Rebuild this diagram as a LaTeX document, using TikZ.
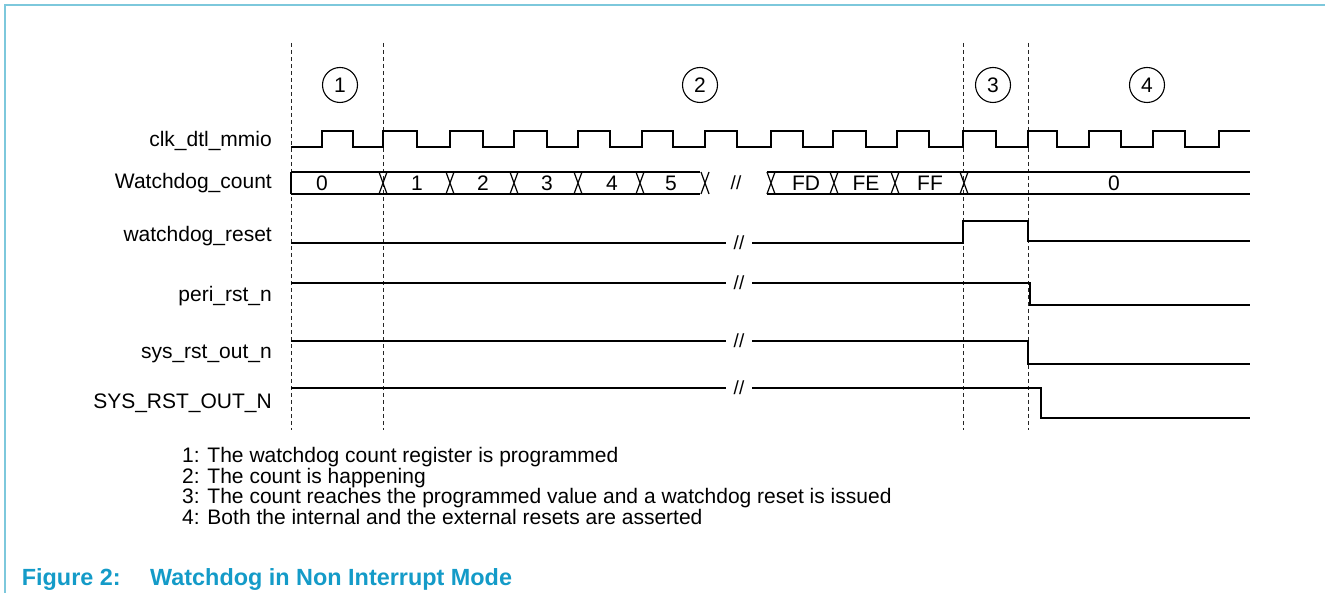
\documentclass[tikz,border=0pt]{standalone}
\usepackage{fontspec}
\setmainfont{Liberation Sans}
\definecolor{framecol}{RGB}{125,200,220}
\definecolor{capcol}{RGB}{20,155,200}
\begin{document}
\begin{tikzpicture}[x=1pt,y=-1pt,
 sig/.style={line width=1.2pt,black},
 gridline/.style={line width=0.9pt,dash pattern=on 4pt off 3pt,black!85},
 lbl/.style={anchor=east,inner sep=0pt,font=\fontsize{21}{21}\selectfont},
 val/.style={inner sep=0pt,font=\fontsize{21}{21}\selectfont},
 brk/.style={inner sep=0pt,font=\fontsize{19}{19}\selectfont},
 phase/.style={circle,draw,line width=1.1pt,minimum size=35pt,inner sep=0pt,font=\fontsize{21}{21}\selectfont},
 note/.style={anchor=base west,inner sep=0pt,font=\fontsize{21}{21}\selectfont},
 capt/.style={anchor=base west,inner sep=0pt,text=capcol,font=\fontsize{23.4}{23.4}\selectfont\bfseries},
]
\useasboundingbox (0,0) rectangle (1325,593);
% frame
\draw[framecol,line width=2pt] (5,593) -- (5,5) -- (1325,5);
% phase boundaries
\foreach \x in {291,383,963,1028} \draw[gridline] (\x,43) -- (\x,430);
% phase markers
\node[phase] (p1) at (340,85) {1};
\node[phase] (p2) at (700,85) {2};
\node[phase] (p3) at (993,85) {3};
\node[phase] (p4) at (1147,85) {4};
% signal names
\node[lbl] (nclk) at (272,141) {clk\_dtl\_mmio};
\node[lbl] (ncnt) at (272,183) {Watchdog\_count};
\node[lbl] (nwdr) at (272,236) {watchdog\_reset};
\node[lbl] (nper) at (272,296) {peri\_rst\_n};
\node[lbl] (nsys) at (272,354) {sys\_rst\_out\_n};
\node[lbl] (nSYS) at (272,403) {SYS\_RST\_OUT\_N};
% clock
\draw[sig] (291,147) -- (322,147) -- (322,131) -- (353,131) -- (353,147) -- (383,147) -- (383,131) -- (417,131) -- (417,147) -- (450,147) -- (450,131) -- (483,131) -- (483,147) -- (514,147) -- (514,131) -- (547,131) -- (547,147) -- (578,147) -- (578,131) -- (610,131) -- (610,147) -- (642,147) -- (642,131) -- (673,131) -- (673,147) -- (705,147) -- (705,131) -- (737,131) -- (737,147) -- (771,147) -- (771,131) -- (803,131) -- (803,147) -- (833,147) -- (833,131) -- (866,131) -- (866,147) -- (897,147) -- (897,131) -- (929,131) -- (929,147) -- (963,147) -- (963,131) -- (996,131) -- (996,147) -- (1028,147) -- (1028,131) -- (1057,131) -- (1057,147) -- (1089,147) -- (1089,131) -- (1121,131) -- (1121,147) -- (1153,147) -- (1153,131) -- (1185,131) -- (1185,147) -- (1219,147) -- (1219,131) -- (1250,131);
% count bus
\draw[sig] (291,172) -- (700,172) (291,194) -- (700,194) (291,172) -- (291,194);
\draw[sig] (767,172) -- (1250,172) (767,194) -- (1250,194);
\foreach \x in {383,450,514,578,640,705,771,834,895,964}
  \draw[sig] (\x-4,172) -- (\x+4,194) (\x-4,194) -- (\x+4,172);
\node[val] (v0) at (322,183) {0};
\node[val] (v1) at (417,183) {1};
\node[val] (v2) at (483,183) {2};
\node[val] (v3) at (547,183) {3};
\node[val] (v4) at (612,183) {4};
\node[val] (v5) at (671,183) {5};
\node[brk] (vb) at (736,183) {//};
\node[val] (vFD) at (806,183) {FD};
\node[val] (vFE) at (866,183) {FE};
\node[val] (vFF) at (930,183) {FF};
\node[val] (vz) at (1114,183) {0};
% watchdog_reset
\draw[sig] (291,243) -- (726,243) (752,243) -- (963,243) -- (963,221) -- (1028,221) -- (1028,241) -- (1250,241);
\node[brk] (b1) at (739,243) {//};
% peri_rst_n
\draw[sig] (291,283) -- (726,283) (752,283) -- (1030,283) -- (1030,305) -- (1250,305);
\node[brk] (b2) at (739,283) {//};
% sys_rst_out_n
\draw[sig] (291,341) -- (726,341) (752,341) -- (1028,341) -- (1028,364) -- (1250,364);
\node[brk] (b3) at (739,341) {//};
% SYS_RST_OUT_N
\draw[sig] (291,388) -- (726,388) (752,388) -- (1041,388) -- (1041,418) -- (1250,418);
\node[brk] (b4) at (739,388) {//};
% notes
\node[note] (n1) at (182,462.5) {1: The watchdog count register is programmed};
\node[note] (n2) at (182,483.2) {2: The count is happening};
\node[note] (n3) at (182,503.9) {3: The count reaches the programmed value and a watchdog reset is issued};
\node[note] (n4) at (182,524.6) {4: Both the internal and the external resets are asserted};
% caption
\node[capt] (c1) at (21.7,585) {Figure 2:};
\node[capt] (c2) at (150,585) {Watchdog in Non Interrupt Mode};
\end{tikzpicture}
\end{document}
